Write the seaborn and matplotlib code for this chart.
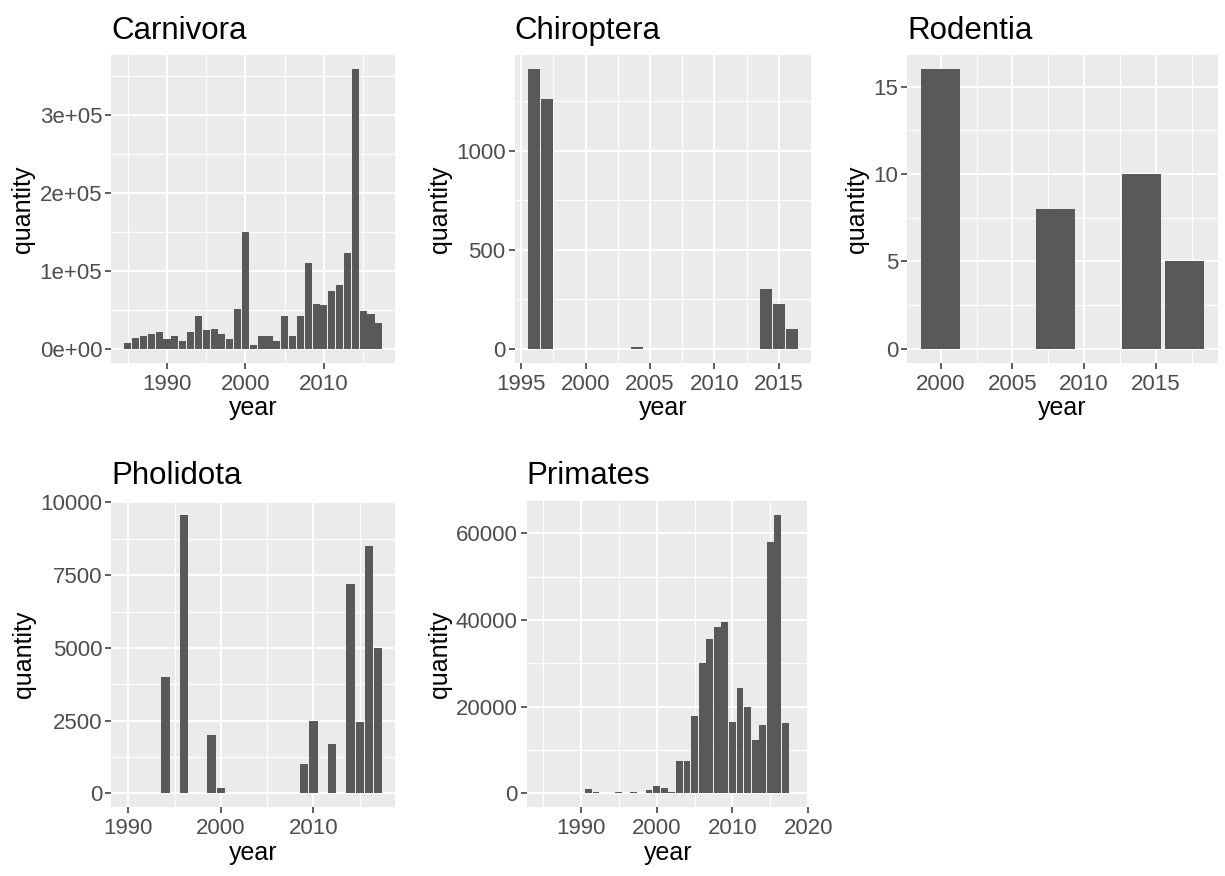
import numpy as np
import matplotlib
matplotlib.use("Agg")
import matplotlib.pyplot as plt
import seaborn as sns
from matplotlib.ticker import FixedLocator, FuncFormatter

# Traded quantity by year, one panel per order
carn_years = [1985, 1986, 1987, 1988, 1989, 1990, 1991, 1992, 1993, 1994, 1995,
              1996, 1997, 1998, 1999, 2000, 2001, 2002, 2003, 2004, 2005, 2006,
              2007, 2008, 2009, 2010, 2011, 2012, 2013, 2014, 2015, 2016, 2017]
carn_qty = [7700, 14200, 16300, 18900, 21500, 12000, 16300, 9900, 21500, 42000, 23600,
            25800, 19300, 12000, 51000, 150000, 4700, 16300, 16300, 9900, 42000, 16300,
            42000, 110700, 57900, 55800, 74200, 81500, 122300, 358800, 48500, 44600, 33000]

chir_years = [1996, 1997, 2004, 2014, 2015, 2016]
chir_qty = [1410, 1258, 10, 300, 228, 100]

rode_years = [2000, 2008, 2014, 2017]
rode_qty = [16, 8, 10, 5]

phol_years = [1990, 1994, 1996, 1999, 2000, 2009, 2010, 2012, 2014, 2015, 2016, 2017]
phol_qty = [0, 4000, 9580, 2000, 200, 1000, 2500, 1700, 7200, 2450, 8500, 5000]

prim_years = [1985, 1991, 1992, 1995, 1997, 1999, 2000, 2001, 2002, 2003, 2004, 2005,
              2006, 2007, 2008, 2009, 2010, 2011, 2012, 2013, 2014, 2015, 2016, 2017, 2018]
prim_qty = [0, 900, 400, 250, 250, 800, 1600, 1200, 300, 7400, 7400, 17800,
            30100, 35500, 38300, 39600, 16500, 24300, 19900, 12400, 15800, 58100, 64300, 16200, 0]

# tick labels per panel
carn_xticks = [1990, 2000, 2010]
carn_yticks = [0, 100000, 200000, 300000]
chir_xticks = [1995, 2000, 2005, 2010, 2015]
chir_yticks = [0, 500, 1000]
rode_xticks = [2000, 2005, 2010, 2015]
rode_yticks = [0, 5, 10, 15]
phol_xticks = [1990, 2000, 2010]
phol_yticks = [0, 2500, 5000, 7500, 10000]
prim_xticks = [1990, 2000, 2010, 2020]
prim_yticks = [0, 20000, 40000, 60000]

sns.set_theme(style="darkgrid", rc={
    "axes.facecolor": "#EBEBEB",
    "grid.color": "white",
    "axes.edgecolor": "#EBEBEB",
})
plt.rcParams['font.family'] = ['Liberation Sans', 'DejaVu Sans']

W, H = 1225, 876
fig = plt.figure(figsize=(W / 100, H / 100), dpi=100)

BAR = '#595959'


def sci(v, pos):
    return f"{v:.0e}"


def plain(v, pos):
    return f"{int(round(v))}"


def panel(box, title, years, qty, xticks, yticks, fmt=plain):
    x0, y0, x1, y1 = box
    ax = fig.add_axes([x0 / W, 1 - y1 / H, (x1 - x0) / W, (y1 - y0) / H])
    sns.barplot(x=years, y=qty, native_scale=True, orient="x", width=0.9,
                color=BAR, saturation=1, errorbar=None, linewidth=0, ax=ax)

    # ggplot-like limits: 5% expansion around the bars
    res = np.min(np.diff(sorted(years))) if len(years) > 1 else 1
    lo, hi = min(years) - 0.45 * res, max(years) + 0.45 * res
    ax.set_xlim(lo - 0.05 * (hi - lo), hi + 0.05 * (hi - lo))
    ylo, yhi = min(0, min(qty)), max(qty)
    ax.set_ylim(ylo - 0.05 * (yhi - ylo), yhi + 0.05 * (yhi - ylo))

    xstep = xticks[1] - xticks[0]
    ystep = yticks[1] - yticks[0]
    ax.xaxis.set_major_locator(FixedLocator(xticks))
    ax.yaxis.set_major_locator(FixedLocator(yticks))
    xmin = [xticks[0] - xstep / 2] + [t + xstep / 2 for t in xticks]
    ymin = [yticks[0] - ystep / 2] + [t + ystep / 2 for t in yticks]
    ax.xaxis.set_minor_locator(FixedLocator(xmin))
    ax.yaxis.set_minor_locator(FixedLocator(ymin))
    ax.xaxis.set_major_formatter(FuncFormatter(plain))
    ax.yaxis.set_major_formatter(FuncFormatter(fmt))

    ax.grid(which='major', color='white', linewidth=1.5)
    ax.grid(which='minor', color='white', linewidth=0.8)
    ax.set_axisbelow(True)
    ax.tick_params(which='major', length=4, width=1.1, color='#333333',
                   labelsize=16, labelcolor='#4D4D4D', pad=2.5, bottom=True, left=True)
    ax.tick_params(axis='x', which='major', pad=4)
    ax.tick_params(which='minor', length=0)
    for s in ax.spines.values():
        s.set_visible(False)

    ax.set_title(title, loc='left', fontsize=22.5, color='black', pad=12)
    ax.set_ylabel('quantity', fontsize=18, color='black', labelpad=3)
    ax.set_xlabel('year', fontsize=18, color='black', labelpad=1)
    return ax


panel((111.3, 55.3, 395.3, 362.7), 'Carnivora', carn_years, carn_qty,
      carn_xticks, carn_yticks, fmt=sci)
panel((514.7, 55.3, 811.0, 362.7), 'Chiroptera', chir_years, chir_qty,
      chir_xticks, chir_yticks)
panel((907.3, 55.3, 1218.0, 362.7), 'Rodentia', rode_years, rode_qty,
      rode_xticks, rode_yticks)
panel((111.3, 500.7, 395.3, 807.3), 'Pholidota', phol_years, phol_qty,
      phol_xticks, phol_yticks)
panel((526.7, 500.7, 809.3, 807.3), 'Primates', prim_years, prim_qty,
      prim_xticks, prim_yticks)

fig.savefig('out.png', dpi=100, facecolor='white')
